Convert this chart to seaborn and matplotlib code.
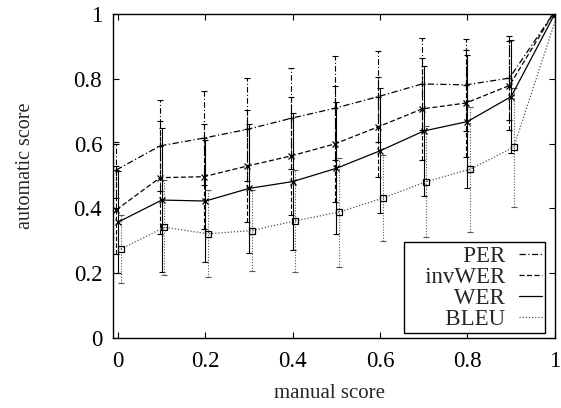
import numpy as np
import pandas as pd
import matplotlib
matplotlib.use("Agg")
import matplotlib.pyplot as plt
import seaborn as sns
from matplotlib.lines import Line2D

# manual score bins
manual = [0.0, 0.1, 0.2, 0.3, 0.4, 0.5, 0.6, 0.7, 0.8, 0.9, 1.0]

per = [0.519, 0.593, 0.617, 0.644, 0.678, 0.709, 0.745, 0.784, 0.781, 0.802, 1.0]
per_err = [0.087, 0.140, 0.146, 0.158, 0.155, 0.161, 0.139, 0.143, 0.141, 0.130, 0.0]
invwer = [0.396, 0.495, 0.498, 0.531, 0.562, 0.599, 0.652, 0.707, 0.725, 0.779, 1.0]
invwer_err = [0.135, 0.175, 0.162, 0.173, 0.182, 0.178, 0.154, 0.157, 0.165, 0.137, 0.0]
wer = [0.358, 0.426, 0.423, 0.462, 0.483, 0.524, 0.578, 0.639, 0.668, 0.745, 1.0]
wer_err = [0.158, 0.222, 0.188, 0.198, 0.211, 0.203, 0.193, 0.200, 0.205, 0.175, 0.0]
bleu = [0.275, 0.342, 0.322, 0.332, 0.362, 0.389, 0.432, 0.483, 0.521, 0.589, 1.0]
bleu_err = [0.104, 0.147, 0.134, 0.124, 0.157, 0.168, 0.132, 0.170, 0.192, 0.183, 0.0]

names = ["PER", "invWER", "WER", "BLEU"]
values = {"PER": per, "invWER": invwer, "WER": wer, "BLEU": bleu}
errors = {"PER": per_err, "invWER": invwer_err, "WER": wer_err, "BLEU": bleu_err}

# style per metric: (dashes, marker, colour, small x shift like the original)
styles = {
    "PER": ((5, 2, 1, 2), "+", "black", -0.004),
    "invWER": ((4, 2), "x", "black", -0.004),
    "WER": ((), "x", "black", 0.0),
    "BLEU": ((1, 1.5), "s", "#555555", 0.006),
}

rows = []
for n in names:
    for m, v, e in zip(manual, values[n], errors[n]):
        rows.append({"manual": m + styles[n][3], "score": v, "err": e, "metric": n})
df = pd.DataFrame(rows)

sns.set_style("ticks")
plt.rcParams["font.family"] = ["Liberation Serif", "DejaVu Serif"]

fig = plt.figure(figsize=(5.61, 4.08), dpi=100)
ax = fig.add_axes([0.202, 0.171, 0.787, 0.795])

for n in names:
    dashes, marker, col, _ = styles[n]
    sub = df[df["metric"] == n]
    eb = ax.errorbar(sub["manual"], sub["score"], yerr=sub["err"], fmt="none",
                     ecolor=col, elinewidth=0.8, capsize=2.5, capthick=0.8, zorder=2)
    if dashes:
        for lc in eb[2]:
            lc.set_linestyle((0, dashes))
    sns.lineplot(data=sub, x="manual", y="score", ax=ax, color=col, lw=0.9,
                 marker=marker, markersize=5 if marker != "s" else 4.5,
                 markerfacecolor="none" if marker == "s" else col,
                 markeredgecolor="black" if marker == "s" else col,
                 markeredgewidth=0.9, dashes=False, sort=False, zorder=3)
    line = ax.lines[-1]
    if dashes:
        line.set_dashes(dashes)

ax.set_xlim(-0.011, 1.0)
ax.set_ylim(0, 1)
ticks = [0, 0.2, 0.4, 0.6, 0.8, 1.0]
tick_labels = ["0", "0.2", "0.4", "0.6", "0.8", "1"]
ax.set_xticks(ticks)
ax.set_xticklabels(tick_labels)
ax.set_yticks(ticks)
ax.set_yticklabels(tick_labels)
ax.tick_params(direction="in", length=4, width=0.8, top=True, right=True,
               labelsize=16.5, colors="black")
ax.tick_params(axis="x", pad=9)
ax.tick_params(axis="y", pad=8)
for s in ax.spines.values():
    s.set_visible(True)
    s.set_linewidth(1.0)
    s.set_color("black")

ax.set_xlabel("manual score", fontsize=15)
ax.set_ylabel("automatic score", fontsize=14.5)
ax.xaxis.label.set_va("center")
ax.yaxis.label.set_va("center")
ax.xaxis.set_label_coords(0.489, -0.169)
ax.yaxis.set_label_coords(-0.2, 0.531)

handles = []
for n in names:
    dashes, _, col, _ = styles[n]
    h = Line2D([0], [0], color=col, lw=0.9)
    if dashes:
        h.set_dashes(dashes)
    handles.append(h)
leg = ax.legend(handles, ["   " + n for n in names], loc="lower right",
                markerfirst=False, fontsize=16.5,
                handlelength=1.0, handletextpad=0.6, labelspacing=0.0,
                borderpad=0.15, borderaxespad=0, fancybox=False, framealpha=1,
                edgecolor="black", bbox_to_anchor=(0.978, 0.015))
leg.get_frame().set_linewidth(1.0)
for t in leg.get_texts():
    t.set_ha("right")

fig.savefig("out.png", dpi=100)
